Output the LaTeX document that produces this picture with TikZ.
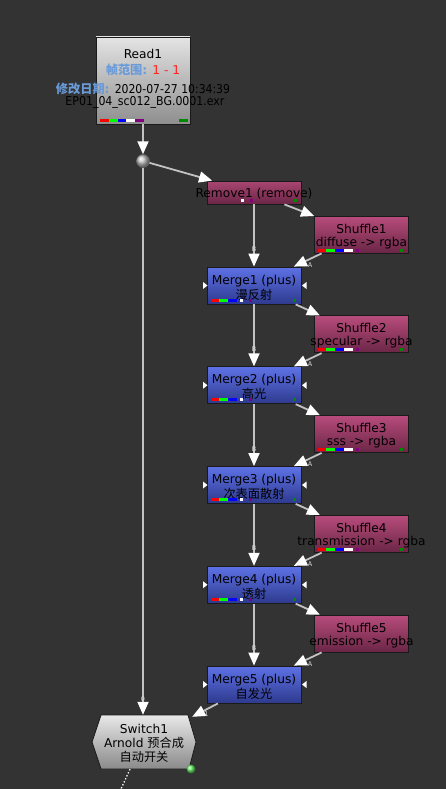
\documentclass[tikz,border=0pt]{standalone}
\usepackage{fontspec}
\setmainfont{DejaVu Sans}
\newfontfamily\zhfont{Noto Sans CJK SC}
\usetikzlibrary{arrows.meta}

\definecolor{canvas}{HTML}{333333}
\definecolor{boxedge}{HTML}{1A1A1A}
\definecolor{readtop}{HTML}{E4E4E4}
\definecolor{readbot}{HTML}{8E8E8E}
\definecolor{shuftop}{HTML}{B84C7C}
\definecolor{shufbot}{HTML}{6A2646}
\definecolor{mergetop}{HTML}{5E72E6}
\definecolor{mergebot}{HTML}{2E3A8E}
\definecolor{swtop}{HTML}{E8E8E8}
\definecolor{swbot}{HTML}{8A8A8A}
\definecolor{pipecol}{HTML}{C2C2C2}
\definecolor{tagcol}{HTML}{D8D8D8}
\definecolor{rangeblue}{HTML}{6A9BD8}
\definecolor{rangered}{HTML}{FF2020}
\definecolor{chred}{HTML}{FF0000}
\definecolor{chgreen}{HTML}{00FF00}
\definecolor{chblue}{HTML}{0000FF}
\definecolor{chpurple}{HTML}{800080}
\definecolor{chdepth}{HTML}{008800}
\definecolor{flaggreen}{HTML}{66EE66}
\definecolor{dotgray}{HTML}{C8C8C8}

\begin{document}
\begin{tikzpicture}[x=1pt,y=-1pt,
  font=\fontsize{12.2}{14}\selectfont,
  nodebox/.style={draw=boxedge, line width=0.8pt, inner sep=0, minimum width=94pt},
  readbox/.style={nodebox, top color=readtop, bottom color=readbot, minimum height=87pt},
  shufbox/.style={nodebox, top color=shuftop, bottom color=shufbot, minimum height=37pt},
  mergebox/.style={nodebox, top color=mergetop, bottom color=mergebot, minimum height=37pt},
  lbl/.style={inner sep=0, anchor=base, text=black},
  pipe/.style={draw=pipecol, line width=1.8pt,
    -{Triangle[length=13pt,width=11pt,color=white,fill=white]}},
  tag/.style={font=\fontsize{6.5}{7}\selectfont, text=tagcol, inner sep=0.5pt},
  maskin/.style={fill=white},
]
% canvas
\fill[canvas] (0,0) rectangle (446,789);
\useasboundingbox (0,0) rectangle (446,789);

% ---------- Read1 ----------
\node[readbox] (read) at (143,80.5) {};
\node[lbl] (readname) at (143,59) {Read1};
\node[lbl] (readrange) at (143,75) {\textcolor{rangeblue}{{\zhfont\bfseries 帧范围}\textbf{:}} \textcolor{rangered}{1 - 1}};
\node[lbl] (readdate) at (143,93.5) {\textcolor{rangeblue}{{\zhfont\bfseries 修改日期}\textbf{:}} \scalebox{0.89}[1]{2020-07-27 10:34:39}};
\node[lbl] (readfile) at (145,106) {\scalebox{0.9}[1]{EP01\_04\_sc012\_BG.0001.exr}};
\fill[chred]    (100,119) rectangle (108.8,122);
\fill[chgreen]  (108.8,119) rectangle (117.6,122);
\fill[chblue]   (117.6,119) rectangle (126.4,122);
\fill[white]    (126.4,119) rectangle (135.2,122);
\fill[chpurple] (135.2,119) rectangle (144,122);
\fill[chdepth]  (179,119) rectangle (188,122);

% ---------- split dot ----------
\node[circle, minimum size=13pt, inner sep=0, shading=ball, ball color=dotgray,
      draw=black!60, line width=0.5pt] (dot) at (143,161) {};

% ---------- Remove1 ----------
\node[nodebox, top color=shuftop!92!black, bottom color=shufbot, minimum height=23pt] (rm) at (254,192.5) {};
\node[lbl] (rmname) at (254,197) {Remove1 (remove)};
\fill[white]    (241,199) rectangle (244,202);
\fill[chpurple] (250,199) rectangle (253,202);
\fill[chdepth]  (294,199) rectangle (297,202);

% ---------- Shuffle / Merge columns ----------
\foreach \k/\pass/\zh in {1/diffuse/漫反射, 2/specular/高光, 3/sss/次表面散射,
                          4/transmission/透射, 5/emission/自发光}{
  % Shuffle
  \pgfmathsetmacro\stop{216+99.75*(\k-1)}
  \node[shufbox] (sh\k) at (361.5,\stop+18.5) {};
  \node[lbl] (shname\k) at (361.5,\stop+17) {Shuffle\k};
  \node[lbl] (shpass\k) at (361.5,\stop+30) {\pass\ -> rgba};
  % Merge
  \pgfmathsetmacro\mtop{267+99.75*(\k-1)}
  \node[mergebox] (mg\k) at (254,\mtop+18.5) {};
  \node[lbl] (mgname\k) at (254,\mtop+17) {Merge\k\ (plus)};
  \node[lbl] (mgzh\k) at (254,\mtop+32) {\zhfont\zh};
  % mask input markers
  \fill[maskin] (203,\mtop+15) -- (207.5,\mtop+18.5) -- (203,\mtop+22) -- cycle;
  \fill[maskin] (306.5,\mtop+15) -- (302,\mtop+18.5) -- (306.5,\mtop+22) -- cycle;
  \ifnum\k<5
    % channel bars
    \fill[chred]    (318,\stop+32.5) rectangle (326,\stop+35.5);
    \fill[chgreen]  (326,\stop+32.5) rectangle (335,\stop+35.5);
    \fill[chblue]   (335,\stop+32.5) rectangle (344,\stop+35.5);
    \fill[white]    (344,\stop+32.5) rectangle (353,\stop+35.5);
    \fill[chpurple] (356,\stop+32.5) rectangle (359,\stop+35.5);
    \fill[chdepth]  (400,\stop+32.5) rectangle (403,\stop+35.5);
    \fill[chred]    (211,\mtop+31.5) rectangle (219,\mtop+34.5);
    \fill[chgreen]  (219,\mtop+31.5) rectangle (228,\mtop+34.5);
    \fill[chblue]   (228,\mtop+31.5) rectangle (237,\mtop+34.5);
    \fill[white]    (240,\mtop+31.5) rectangle (243,\mtop+34.5);
    \fill[chpurple] (249,\mtop+31.5) rectangle (252,\mtop+34.5);
    \fill[chdepth]  (293,\mtop+31.5) rectangle (296,\mtop+34.5);
  \fi
}

% ---------- Switch1 ----------
\node[inner sep=0, minimum width=96pt, minimum height=54pt] (sw) at (144,742) {};
\shadedraw[top color=swtop, bottom color=swbot, draw=boxedge, line width=0.8pt]
  (101,715) -- (188,715) -- (196,742) -- (189,769) -- (101,769) -- (92,742) -- cycle;
\node[lbl] (swname) at (144,733) {Switch1};
\node[lbl] (swsub) at (144,747) {Arnold {\zhfont 预合成}};
\node[lbl] (swsub2) at (144,761) {\zhfont 自动开关};
\node[circle, minimum size=9pt, inner sep=0, shading=ball, ball color=flaggreen] (swflag) at (191,769) {};
\coordinate (tail) at (121,789);
\draw[white, line width=1.3pt, dotted] ([xshift=-14pt]sw.south) -- (tail);

% ---------- connections ----------
\draw[pipe] (read) -- (dot);
\draw[pipe] (dot) -- (rm);
\draw[pipe] (dot) -- (dot |- sw.north) node[tag, pos=0.972] {0};
\draw[pipe] (rm) -- (sh1);
\draw[pipe] (rm) -- (mg1) node[tag, pos=0.72] {B};
\foreach \k in {1,...,5}{
  \draw[pipe] (sh\k) -- (mg\k) node[tag, pos=0.42, below=2pt] {A};
}
\foreach \k in {1,...,4}{
  \pgfmathtruncatemacro\nx{\k+1}
  \draw[pipe] (mg\k) -- (sh\nx);
  \draw[pipe] (mg\k) -- (mg\nx) node[tag, pos=0.72] {B};
}
\draw[pipe] (mg5) -- (sw) node[tag, pos=0.45, below=1pt] {1};
\end{tikzpicture}
\end{document}
